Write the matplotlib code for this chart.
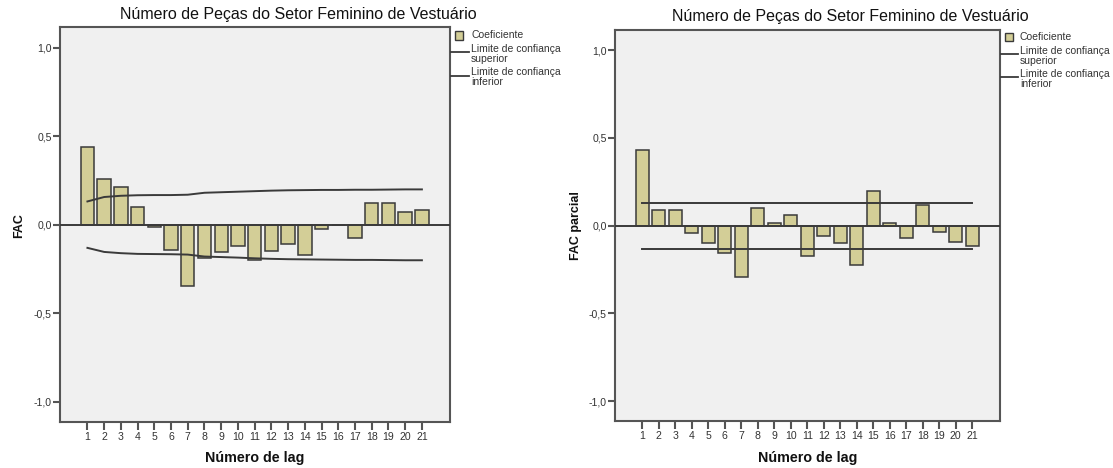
import matplotlib
matplotlib.use("Agg")
import matplotlib.pyplot as plt
from matplotlib.patches import Rectangle
from matplotlib.lines import Line2D

plt.rcParams['font.family'] = ['Liberation Sans', 'DejaVu Sans']

# ---- data ----
lags = list(range(1, 22))
acf = [0.437, 0.258, 0.213, 0.102, -0.015, -0.143, -0.343, -0.190, -0.153, -0.117,
       -0.198, -0.147, -0.107, -0.171, -0.021, 0.0, -0.073, 0.126, 0.126, 0.072, 0.081]
acf_upper = [0.132, 0.157, 0.164, 0.167, 0.168, 0.168, 0.170, 0.181, 0.184, 0.187,
             0.190, 0.193, 0.195, 0.196, 0.197, 0.197, 0.198, 0.198, 0.199, 0.200, 0.200]
acf_lower = [-0.130, -0.153, -0.160, -0.164, -0.165, -0.166, -0.168, -0.179, -0.182, -0.185,
             -0.189, -0.192, -0.194, -0.195, -0.196, -0.197, -0.198, -0.198, -0.199, -0.200, -0.200]
pacf = [0.434, 0.089, 0.089, -0.041, -0.096, -0.157, -0.293, 0.102, 0.015, 0.061,
        -0.170, -0.057, -0.098, -0.225, 0.197, 0.015, -0.070, 0.116, -0.038, -0.093, -0.114]
pacf_upper = [0.131] * 21
pacf_lower = [-0.131] * 21

ytick_vals = [-1.0, -0.5, 0.0, 0.5, 1.0]
ytick_labels = ['-1,0', '-0,5', '0,0', '0,5', '1,0']
title = 'Número de Peças do Setor Feminino de Vestuário'
xlabel = 'Número de lag'
ylabels = ['FAC', 'FAC parcial']
legend_labels = ['Coeficiente', 'Limite de confiança', 'superior', 'Limite de confiança', 'inferior']

W, H = 1113, 468
fig = plt.figure(figsize=(W / 100, H / 100), dpi=100)

BAR = '#d3ce97'
DARK = '#3a3a3a'
SPINE = '#555555'
TXT = '#333333'


def fx(px):
    return px / W


def fy(py):
    return 1 - py / H


def panel(left, top, right, bottom, values, upper, lower, ylab, ylab_x, title_cx, leg):
    ax = fig.add_axes([fx(left), fy(bottom), fx(right - left), (bottom - top) / H])
    ax.set_facecolor('#f0f0f0')
    ax.bar(lags, values, width=0.8, color=BAR, edgecolor=DARK, linewidth=1.1, zorder=2)
    ax.axhline(0, color=DARK, lw=1.4, zorder=3)
    ax.plot(lags, upper, color=DARK, lw=1.4, zorder=4)
    ax.plot(lags, lower, color=DARK, lw=1.4, zorder=4)
    ax.set_xlim(-0.64, 22.68)
    ax.set_ylim(-1.113, 1.115)
    ax.set_xticks(lags)
    ax.set_xticklabels([str(l) for l in lags])
    ax.set_yticks(ytick_vals)
    ax.set_yticklabels(ytick_labels)
    for s in ax.spines.values():
        s.set_color(SPINE)
        s.set_linewidth(1.5)
    ax.tick_params(axis='both', direction='out', color=SPINE, width=1.5,
                   labelsize=7.6, labelcolor=TXT)
    ax.tick_params(axis='x', length=6, pad=1.5)
    ax.tick_params(axis='y', length=5, pad=1)
    # axis labels
    fig.text(fx((left + right) / 2), fy(458), xlabel, ha='center', va='center',
             fontsize=10.3, fontweight='bold', color='#111111')
    fig.text(fx(ylab_x), fy(226), ylab, ha='center', va='center', rotation=90,
             fontsize=9, fontweight='bold', color='#111111')
    # title
    fig.text(fx(title_cx), fy(top - 13), title, ha='center', va='center',
             fontsize=11.5, color='#111111')
    # legend
    px, ptop, tx, l1y, l2y = leg
    fig.add_artist(Rectangle((fx(px), fy(ptop + 8)), fx(8), 8 / H, transform=fig.transFigure,
                             facecolor=BAR, edgecolor=DARK, linewidth=1.0))
    fig.text(fx(tx), fy(ptop + 4), legend_labels[0], ha='left', va='center', fontsize=7.5, color=TXT)
    for ly, (a, b) in zip([l1y, l2y], [(legend_labels[1], legend_labels[2]),
                                       (legend_labels[3], legend_labels[4])]):
        fig.add_artist(Line2D([fx(right + 1), fx(tx - 2)], [fy(ly), fy(ly)],
                              transform=fig.transFigure, color=DARK, lw=1.3))
        fig.text(fx(tx), fy(ly - 3.5), a, ha='left', va='center', fontsize=7.5, color=TXT)
        fig.text(fx(tx), fy(ly + 6.5), b, ha='left', va='center', fontsize=7.5, color=TXT)
    return ax


panel(60, 27.3, 450, 422, acf, acf_upper, acf_lower, ylabels[0], 19, 298,
      (455, 31.5, 471, 52.3, 75.7))
panel(615.3, 30, 1000, 421, pacf, pacf_upper, pacf_lower, ylabels[1], 576, 850,
      (1005, 33, 1020, 54.3, 77.3))

fig.savefig('out.png', dpi=100)
